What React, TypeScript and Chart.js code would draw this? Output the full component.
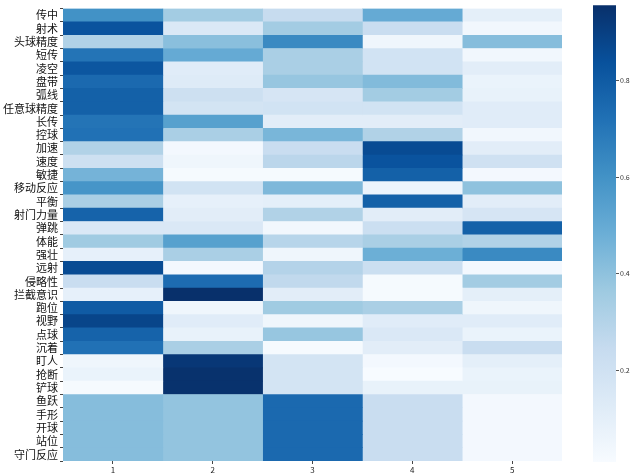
import React, { useEffect, useRef } from "react";
import { Chart, registerables } from "chart.js";

Chart.register(...registerables);

const attributes = [
  "传中", "射术", "头球精度", "短传", "凌空", "盘带", "弧线", "任意球精度", "长传", "控球",
  "加速", "速度", "敏捷", "移动反应", "平衡", "射门力量", "弹跳", "体能", "强壮", "远射",
  "侵略性", "拦截意识", "跑位", "视野", "点球", "沉着", "盯人", "抢断", "铲球", "鱼跃",
  "手形", "开球", "站位", "守门反应",
];

const clusters = ["1", "2", "3", "4", "5"];

const cluster1 = [0.60, 0.83, 0.31, 0.71, 0.82, 0.75, 0.78, 0.78, 0.71, 0.72, 0.31, 0.21, 0.46, 0.59, 0.33, 0.77, 0.15, 0.36, 0.09, 0.86, 0.23, 0.09, 0.80, 0.88, 0.77, 0.72, 0.05, 0.07, 0.02, 0.42, 0.42, 0.42, 0.42, 0.42];
const cluster2 = [0.35, 0.15, 0.41, 0.50, 0.12, 0.13, 0.21, 0.18, 0.54, 0.33, 0.03, 0.05, 0.02, 0.19, 0.09, 0.11, 0.15, 0.54, 0.33, 0.03, 0.74, 0.956, 0.05, 0.12, 0.08, 0.33, 0.93, 0.95, 0.95, 0.39, 0.39, 0.39, 0.39, 0.39];
const cluster3 = [0.24, 0.35, 0.63, 0.33, 0.33, 0.38, 0.17, 0.19, 0.11, 0.45, 0.23, 0.28, 0.02, 0.44, 0.10, 0.31, 0.04, 0.29, 0.05, 0.30, 0.26, 0.11, 0.36, 0.05, 0.38, 0.02, 0.18, 0.18, 0.18, 0.75, 0.75, 0.75, 0.75, 0.75];
const cluster4 = [0.50, 0.23, 0.05, 0.19, 0.19, 0.43, 0.35, 0.19, 0.11, 0.31, 0.86, 0.83, 0.78, 0.06, 0.78, 0.11, 0.22, 0.33, 0.48, 0.22, 0.02, 0.02, 0.33, 0.12, 0.15, 0.11, 0.03, 0.01, 0.08, 0.23, 0.23, 0.23, 0.23, 0.23];
const cluster5 = [0.10, 0.04, 0.42, 0.04, 0.11, 0.07, 0.08, 0.12, 0.12, 0.04, 0.11, 0.20, 0.03, 0.40, 0.11, 0.17, 0.78, 0.31, 0.63, 0.03, 0.35, 0.10, 0.05, 0.12, 0.07, 0.23, 0.10, 0.07, 0.08, 0.03, 0.03, 0.03, 0.03, 0.03];

const colorbarTicks = [0.2, 0.4, 0.6, 0.8];

const BLUES = ["#f7fbff", "#deebf7", "#c6dbef", "#9ecae1", "#6baed6", "#4292c6", "#2171b5", "#08519c", "#08306b"];

function hexToRgb(h: string) {
  return [parseInt(h.slice(1, 3), 16), parseInt(h.slice(3, 5), 16), parseInt(h.slice(5, 7), 16)];
}

function blues(t: number) {
  const c = Math.max(0, Math.min(1, t));
  const p = c * (BLUES.length - 1);
  const i = Math.min(Math.floor(p), BLUES.length - 2);
  const f = p - i;
  const a = hexToRgb(BLUES[i]);
  const b = hexToRgb(BLUES[i + 1]);
  const r = a.map((v, k) => Math.round(v + (b[k] - v) * f));
  return `rgb(${r[0]},${r[1]},${r[2]})`;
}

const FONT = '"Noto Sans CJK SC", "DejaVu Sans", sans-serif';

export default function App() {
  const heatRef = useRef<HTMLCanvasElement>(null);
  const barRef = useRef<HTMLCanvasElement>(null);

  useEffect(() => {
    const series = [cluster1, cluster2, cluster3, cluster4, cluster5];
    const all = series.flat();
    const vmin = Math.min(...all);
    const vmax = Math.max(...all);
    const norm = (v: number) => (v - vmin) / (vmax - vmin);

    const heat = new Chart(heatRef.current!, {
      type: "bar",
      data: {
        labels: attributes,
        datasets: series.map((vals, ci) => ({
          label: clusters[ci],
          data: vals.map(() => [ci + 0.5, ci + 1.5]) as any,
          backgroundColor: vals.map((v) => blues(norm(v))),
          borderWidth: 0,
          barPercentage: 1,
          categoryPercentage: 1,
          grouped: false,
        })),
      },
      options: {
        indexAxis: "y",
        animation: false,
        responsive: false,
        layout: { padding: { top: 5, right: 8, bottom: 0, left: 0 } },
        plugins: { legend: { display: false }, tooltip: { enabled: false } },
        scales: {
          x: {
            type: "linear",
            min: 0.5,
            max: 5.5,
            afterFit: (s: any) => { s.height = 15; },
            afterBuildTicks: (s: any) => { s.ticks = clusters.map((_, i) => ({ value: i + 1 })); },
            ticks: {
              callback: (v: any) => clusters[Math.round(Number(v)) - 1] ?? "",
              font: { family: FONT, size: 8 },
              color: "#222",
              padding: 1,
              maxRotation: 0,
              autoSkip: false,
            },
            grid: { drawOnChartArea: false, drawTicks: true, tickLength: 3, color: "#444" },
            border: { display: false },
          },
          y: {
            type: "category",
            afterFit: (s: any) => { s.width = 63; },
            ticks: {
              font: { family: FONT, size: 11 },
              color: "#111",
              padding: 2,
              autoSkip: false,
            },
            grid: { drawOnChartArea: false, drawTicks: true, tickLength: 3, color: "#444" },
            border: { display: false },
          },
        },
      },
    });

    const bar = new Chart(barRef.current!, {
      type: "bar",
      data: {
        labels: [""],
        datasets: [
          {
            data: [[vmin, vmax]] as any,
            backgroundColor: (ctx: any) => {
              const a = ctx.chart.chartArea;
              if (!a) return BLUES[0];
              const yb = ctx.chart.scales.y.getPixelForValue(vmin);
              const yt = ctx.chart.scales.y.getPixelForValue(vmax);
              const g = ctx.chart.ctx.createLinearGradient(0, yb, 0, yt);
              BLUES.forEach((c, i) => g.addColorStop(i / (BLUES.length - 1), c));
              return g;
            },
            borderWidth: 0,
            barPercentage: 1,
            categoryPercentage: 1,
          },
        ],
      },
      options: {
        animation: false,
        responsive: false,
        layout: { padding: { top: 5, right: 0, bottom: 14, left: 8 } },
        plugins: { legend: { display: false }, tooltip: { enabled: false } },
        scales: {
          x: { display: false },
          y: {
            type: "linear",
            position: "right",
            min: vmin,
            max: vmax,
            afterFit: (s: any) => { s.width = 16; },
            afterBuildTicks: (s: any) => { s.ticks = colorbarTicks.map((v) => ({ value: v })); },
            ticks: {
              callback: (v: any) => Number(v).toFixed(1),
              font: { family: FONT, size: 7 },
              color: "#333",
              padding: 1,
            },
            grid: { drawOnChartArea: false, drawTicks: true, tickLength: 3, color: "#555" },
            border: { display: false },
          },
        },
      },
    });

    return () => {
      heat.destroy();
      bar.destroy();
    };
  }, []);

  return (
    <div style={{ position: "fixed", left: 0, top: 0, width: 632, height: 476, background: "#fff" }}>
      <canvas ref={heatRef} width={570} height={476} style={{ position: "absolute", left: 0, top: 0 }} />
      <canvas ref={barRef} width={47} height={476} style={{ position: "absolute", left: 585, top: 0 }} />
    </div>
  );
}
